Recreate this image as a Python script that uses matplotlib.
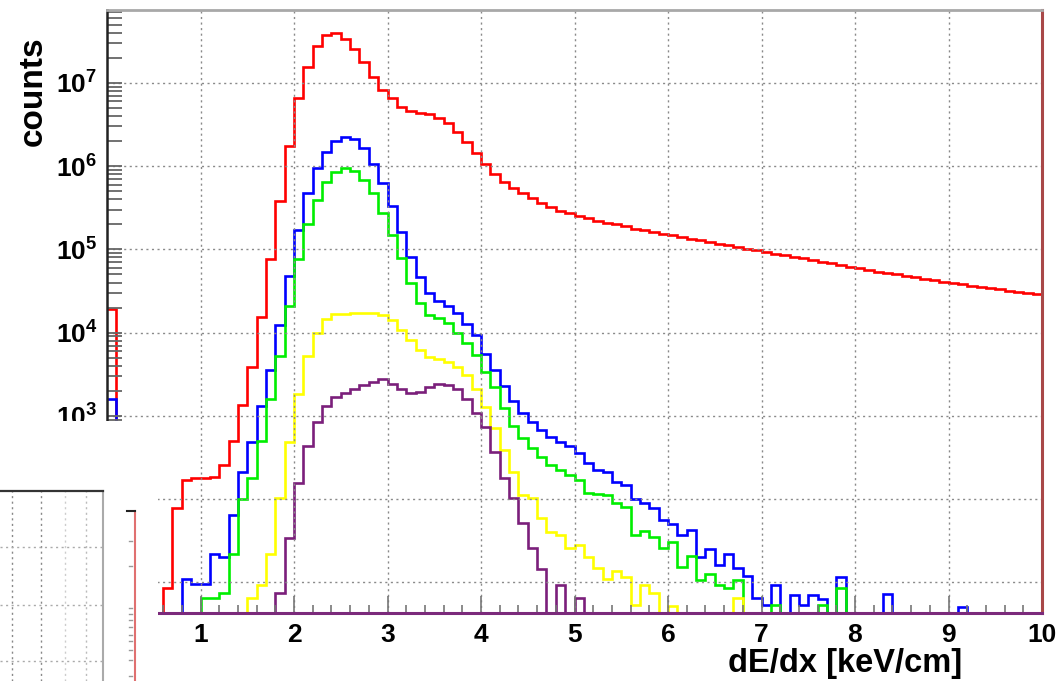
import numpy as np
import matplotlib
matplotlib.use('Agg')
import matplotlib.pyplot as plt
from matplotlib.patches import Rectangle
from matplotlib.lines import Line2D
from matplotlib.ticker import LogLocator, MultipleLocator, NullFormatter

plt.rcParams['font.family'] = ['Liberation Sans', 'DejaVu Sans']
plt.rcParams['font.weight'] = 'bold'
plt.rcParams['mathtext.fontset'] = 'custom'
plt.rcParams['mathtext.rm'] = 'Liberation Sans:bold'
plt.rcParams['mathtext.it'] = 'Liberation Sans:bold'
plt.rcParams['mathtext.bf'] = 'Liberation Sans:bold'

# dE/dx histograms, 100 bins of 0.1 keV/cm from 0 to 10 (counts per bin)
red = [1.9e4, 0, 0, 0, 0, 0, 8.5, 78, 170, 178,
       182, 186, 257, 500, 1350, 3900, 1.55e4, 7.6e4, 3.8e5, 1.74e6,
       6.5e6, 1.55e7, 2.75e7, 3.8e7, 4.0e7, 3.4e7, 2.57e7, 1.78e7, 1.17e7, 8.3e6,
       6.5e6, 5.1e6, 4.6e6, 4.4e6, 4.2e6, 3.8e6, 3.3e6, 2.57e6, 1.95e6, 1.45e6,
       1.07e6, 8.1e5, 6.5e5, 5.5e5, 4.7e5, 4.1e5, 3.6e5, 3.2e5, 2.9e5, 2.75e5,
       2.5e5, 2.4e5, 2.2e5, 2.1e5, 2.0e5, 1.9e5, 1.78e5, 1.7e5, 1.62e5, 1.55e5,
       1.48e5, 1.41e5, 1.35e5, 1.29e5, 1.23e5, 1.17e5, 1.12e5, 1.07e5, 1.02e5, 9.8e4,
       9.3e4, 8.9e4, 8.5e4, 8.1e4, 7.8e4, 7.4e4, 7.1e4, 6.8e4, 6.5e4, 6.2e4,
       5.9e4, 5.6e4, 5.4e4, 5.2e4, 5.0e4, 4.8e4, 4.6e4, 4.4e4, 4.3e4, 4.1e4,
       3.9e4, 3.8e4, 3.6e4, 3.5e4, 3.4e4, 3.3e4, 3.2e4, 3.1e4, 3.0e4, 2.9e4]
blue = [1.6e3, 0, 0, 0, 0, 0, 0, 0, 11, 9.5,
        9.5, 22, 20, 65, 210, 490, 1300, 3600, 1.23e4, 4.8e4,
        1.7e5, 4.8e5, 9.5e5, 1.48e6, 2.0e6, 2.24e6, 2.14e6, 1.66e6, 1.07e6, 6.3e5,
        3.3e5, 1.62e5, 8.1e4, 4.6e4, 3.0e4, 2.4e4, 2.1e4, 1.74e4, 1.26e4, 9300,
        5600, 3550, 2300, 1500, 1070, 850, 680, 560, 490, 440,
        360, 270, 225, 214, 162, 148, 100, 89, 78, 56,
        51, 37, 43, 20, 25, 16, 22, 15, 12, 6.6,
        5.4, 9.3, 0, 7.1, 5.4, 7.1, 6.3, 0, 11.5, 0,
        0, 0, 0, 7.2, 0, 0, 0, 0, 0, 0,
        0, 5.1, 0, 0, 0, 0, 0, 0, 0, 0]
green = [0, 0, 0, 0, 0, 0, 0, 0, 0, 0,
         6.6, 6.6, 7.4, 22, 100, 182, 500, 1600, 5200, 2.1e4,
         7.6e4, 2.0e5, 3.9e5, 6.5e5, 8.5e5, 9.5e5, 8.7e5, 6.8e5, 4.8e5, 2.75e5,
         1.48e5, 7.9e4, 4.0e4, 2.3e4, 1.62e4, 1.51e4, 1.32e4, 1.0e4, 7600, 5400,
         3400, 2240, 1230, 760, 540, 410, 320, 257, 224, 195,
         170, 120, 117, 112, 91, 81, 37, 41, 35, 26,
         31, 15.5, 21, 10.7, 12.6, 9.3, 8.5, 10.7, 0, 0,
         0, 5.4, 0, 0, 0, 0, 5.4, 0, 8.5, 0,
         0, 0, 0, 0, 0, 0, 0, 0, 0, 0,
         0, 0, 0, 0, 0, 0, 0, 0, 0, 0]
yellow = [0, 0, 0, 0, 0, 0, 0, 0, 0, 0,
          0, 0, 0, 0, 0, 6.6, 9.3, 22, 102, 490,
          1820, 5200, 1.0e4, 1.45e4, 1.66e4, 1.66e4, 1.7e4, 1.74e4, 1.74e4, 1.62e4,
          1.41e4, 1.07e4, 8100, 6200, 5100, 4800, 4400, 3900, 3100, 2100,
          1290, 710, 390, 210, 112, 102, 60, 40, 37, 26,
          28, 20, 15, 11, 13.8, 11.5, 5.4, 9.3, 7.4, 0,
          5.2, 0, 0, 0, 0, 0, 0, 6.5, 0, 0,
          0, 0, 0, 0, 0, 0, 0, 0, 0, 0,
          0, 0, 0, 0, 0, 0, 0, 0, 0, 0,
          0, 0, 0, 0, 0, 0, 0, 0, 0, 0]
purple = [0, 0, 0, 0, 0, 0, 0, 0, 0, 0,
          0, 0, 0, 0, 0, 0, 0, 0, 7.4, 34,
          155, 440, 850, 1320, 1700, 1860, 2090, 2340, 2570, 2750,
          2450, 2090, 1860, 1950, 2240, 2400, 2340, 2090, 1580, 1070,
          740, 370, 182, 102, 52, 26, 14.5, 0, 9.3, 0,
          6.5, 0, 0, 0, 0, 0, 0, 0, 0, 0,
          0, 0, 0, 0, 0, 0, 0, 0, 0, 0,
          0, 0, 0, 0, 0, 0, 0, 0, 0, 0,
          0, 0, 0, 0, 0, 0, 0, 0, 0, 0,
          0, 0, 0, 0, 0, 0, 0, 0, 0, 0]

series = [(red, '#ff0000'), (blue, '#0000ff'), (green, '#00ee00'),
          (yellow, '#ffff00'), (purple, '#7b1f7b')]
x_ticks = [1, 2, 3, 4, 5, 6, 7, 8, 9, 10]
y_decades = [1, 2, 3, 4, 5, 6, 7]

W, H = 1060, 681
fig = plt.figure(figsize=(W / 100, H / 100), dpi=100)
ax = fig.add_axes([107 / W, 1 - 613 / H, (1042 - 107) / W, (613 - 10) / H])

edges = np.linspace(0, 10, len(red) + 1)
for vals, col in series:
    v = np.array(vals, dtype=float)
    v = np.where(v > 0, v, 1e-2)  # empty bins drop below the frame
    ax.stairs(v, edges, color=col, lw=1.9, baseline=None)

ax.set_yscale('log')
ax.set_xlim(0, 10)
ax.set_ylim(4.3, 7.5e7)

ax.set_xticks(x_ticks, labels=[str(t) for t in x_ticks])
ax.xaxis.set_minor_locator(MultipleLocator(0.2))
ax.set_yticks([10.0 ** k for k in y_decades],
              labels=[r'$10^{%d}$' % k for k in y_decades])
ax.yaxis.set_minor_locator(LogLocator(base=10, subs=np.arange(2, 10)))
ax.yaxis.set_minor_formatter(NullFormatter())

ax.tick_params(axis='both', which='both', direction='in')
ax.tick_params(axis='x', which='major', length=12, width=1.2, color='#777777',
               labelsize=19, pad=7)
ax.tick_params(axis='x', which='minor', length=6, width=1.2, color='#777777')
ax.tick_params(axis='y', which='both', length=11, width=1.3, color='#666666',
               labelsize=19, pad=7)

ax.grid(True, which='major', color='#8a8a8a', linestyle=(0, (1.5, 2.5)), lw=1.0)

ax.spines['left'].set_color('#222222')
ax.spines['left'].set_linewidth(1.8)
ax.spines['top'].set_color('#a8a8a8')
ax.spines['top'].set_linewidth(2.0)
ax.spines['right'].set_color('#a84848')
ax.spines['right'].set_linewidth(2.2)
ax.spines['bottom'].set_color('#7b2a7b')
ax.spines['bottom'].set_linewidth(2.2)

# pasted-over lower left corner
fig.add_artist(Rectangle((0, 0), 158 / W, (H - 421) / H, transform=fig.transFigure,
                         facecolor='white', edgecolor='none', zorder=5))

ax2 = fig.add_axes([0, 0, 103 / W, (H - 491) / H], zorder=6)
ax2.set_xlim(0, 103)
ax2.set_ylim(681, 491)
ax2.set_xticks([])
ax2.set_yticks([])
for s in ['left', 'bottom']:
    ax2.spines[s].set_visible(False)
ax2.spines['top'].set_color('#333333')
ax2.spines['top'].set_linewidth(1.6)
ax2.spines['right'].set_color('#aaaaaa')
ax2.spines['right'].set_linewidth(1.5)
for gx, gc in [(12, '#888888'), (41, '#888888'), (65, '#cccccc'), (86, '#bbbbbb')]:
    ax2.axvline(gx, color=gc, lw=1.0, linestyle=(0, (1.5, 2.5)))
for gy in [547, 605, 661]:
    ax2.axhline(gy, color='#aaaaaa', lw=1.0, linestyle=(0, (1.5, 2.5)))

fig.add_artist(Line2D([134.5 / W, 134.5 / W], [1 - 511 / H, 0], color='#e07070',
                      lw=1.5, transform=fig.transFigure, zorder=7))
fig.add_artist(Line2D([127 / W, 135 / W], [1 - 511 / H, 1 - 511 / H], color='#222222',
                      lw=1.5, transform=fig.transFigure, zorder=7))
for ty in [541, 566, 608, 614, 620, 627, 635, 641, 650, 660, 676]:
    fig.add_artist(Line2D([129 / W, 132 / W], [1 - ty / H, 1 - ty / H], color='#999999',
                          lw=1.0, transform=fig.transFigure, zorder=7))

fig.text(33 / W, 1 - 36 / H, 'counts', rotation=90, ha='center', va='top',
         fontsize=24, fontweight='bold')
fig.text(962 / W, 1 - 679 / H, 'dE/dx [keV/cm]', ha='right', va='bottom',
         fontsize=23.5, fontweight='bold')

fig.savefig('out.png', dpi=100)
